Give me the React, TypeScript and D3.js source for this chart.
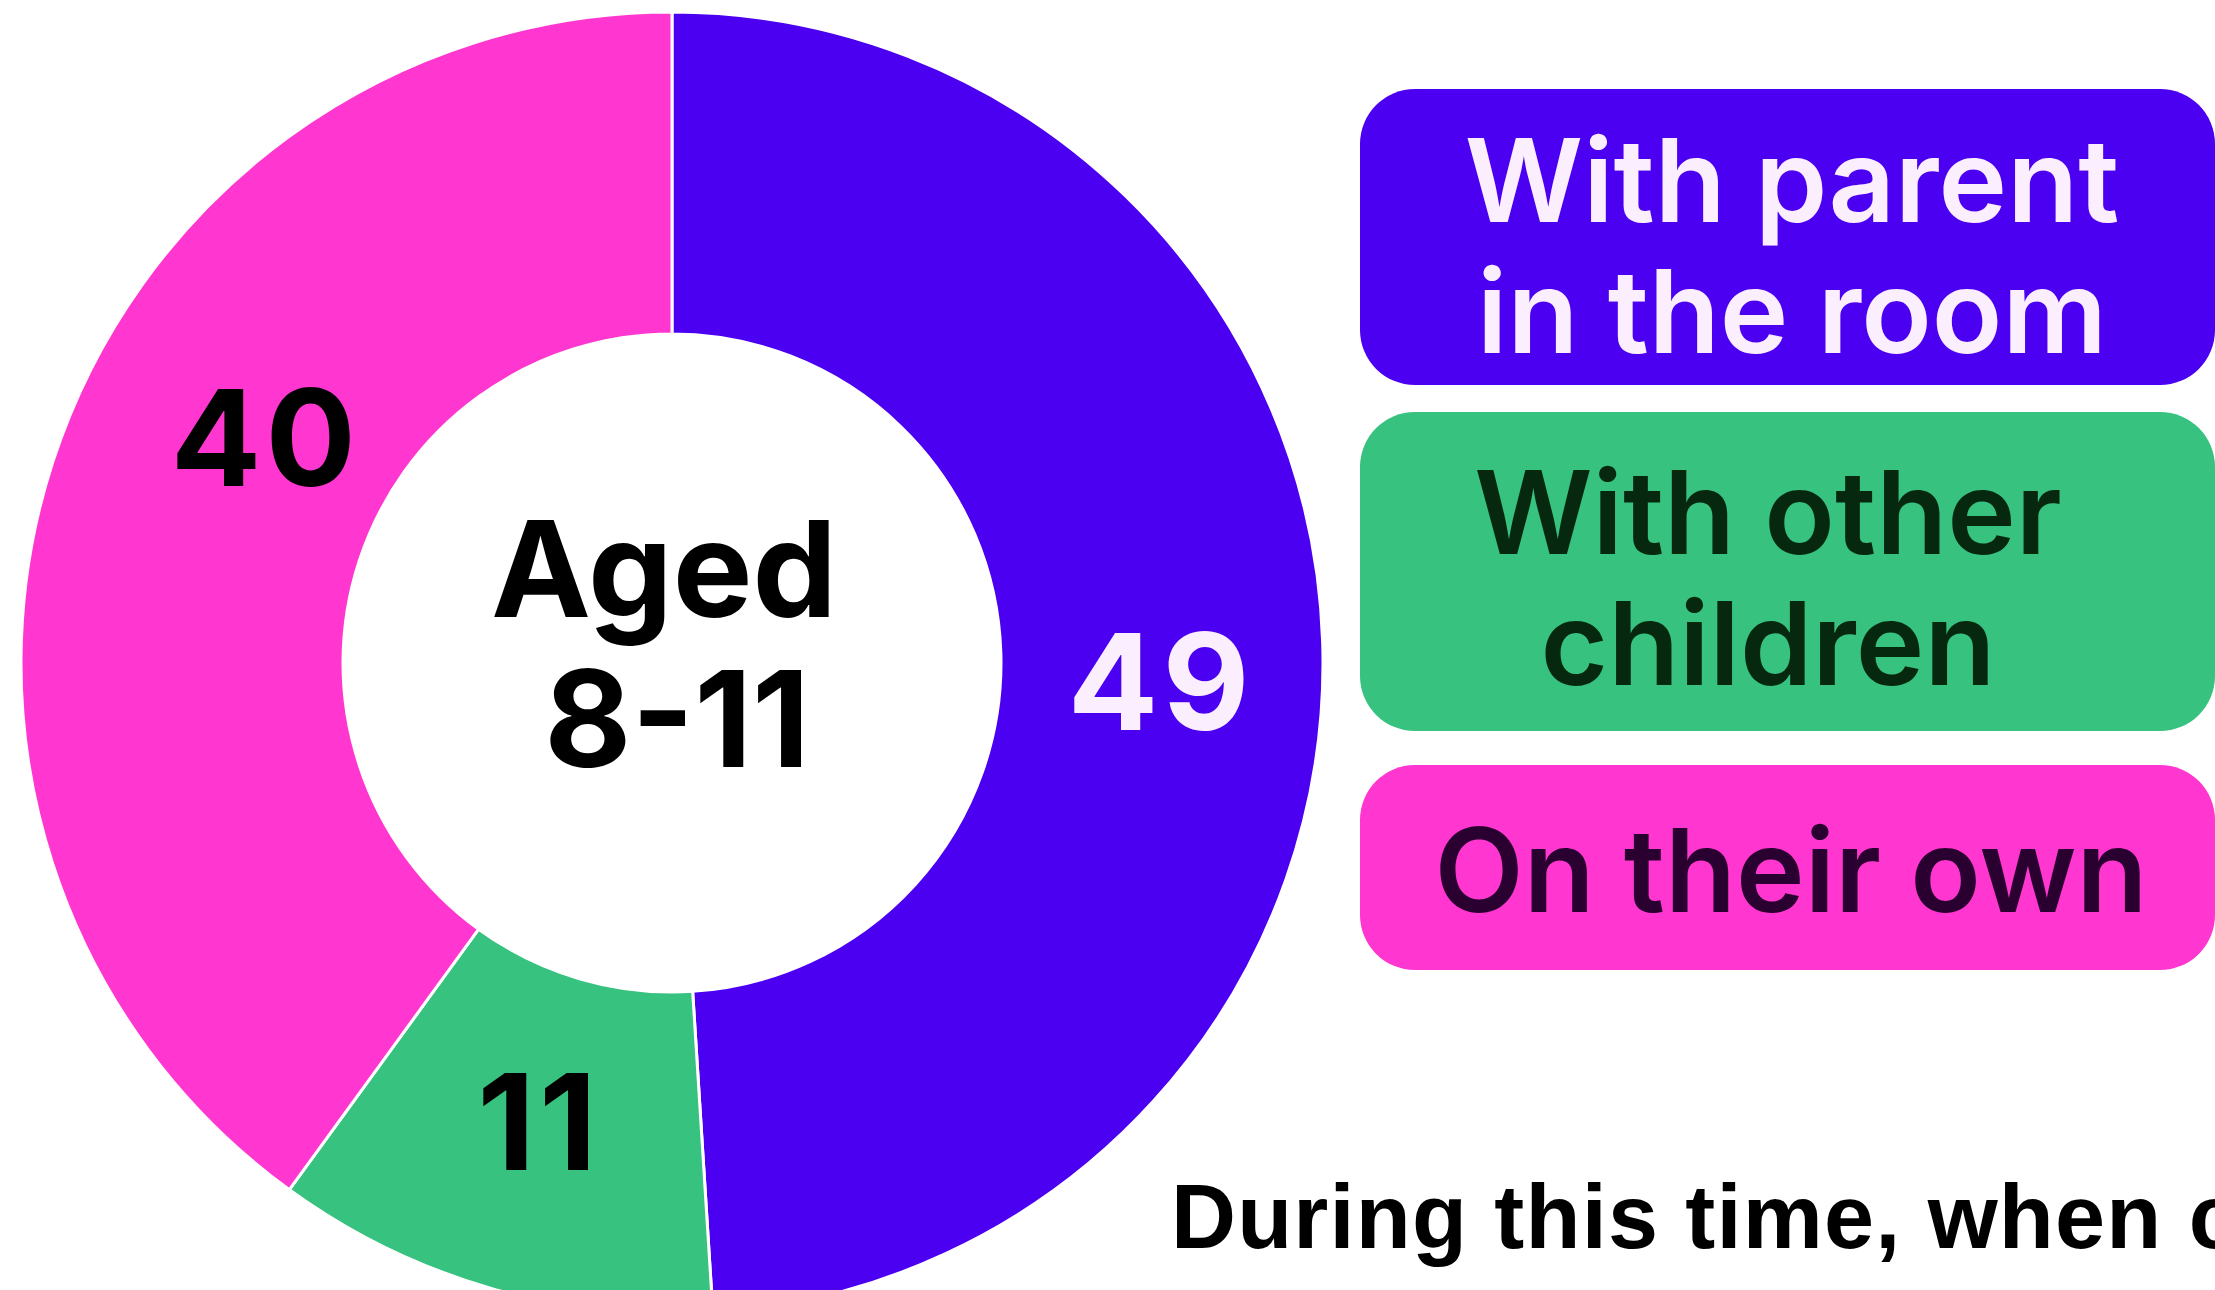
import React from 'react';
import * as d3 from 'd3';

// data
const categories = ['With parent in the room', 'With other children', 'On their own'];
const values = [49, 11, 40];
const colors = ['#4b00f2', '#37c27f', '#ff36cf'];
const legendLines = [['With parent', 'in the room'], ['With other', 'children'], ['On their own']];
const legendText = ['#fbeefe', '#06280f', '#2a0030'];
const labelColors = ['#fbeefe', '#000000', '#000000'];
const centerLines = ['Aged', '8-11'];
const titleText = 'During this time, when children were online, they were';

const W = 2215;
const H = 1290;

function App() {
  const cx = 672;
  const cy = 663;
  const outerR = 651;
  const innerR = 329;

  const pie = d3.pie<number>().sort(null).value(d => d);
  const arcs = pie(values);
  const arc = d3.arc<d3.PieArcDatum<number>>().innerRadius(innerR).outerRadius(outerR);

  // label placement: roughly mid ring, nudged to where the picture has them
  const labelR = [489, 477, 465];
  const labelShift = [0.068, 0, 0.192];
  const numSize = 134;
  const cap = 0.727 * numSize;

  // legend boxes
  const boxX = 1360;
  const boxW = 855;
  const boxTops = [89, 412, 765];
  const boxHeights = [296, 319, 205];
  const lineBase = [[222, 353], [554, 685], [912]];
  const textX = [1792, 1768, 1791];
  const legendSize = 116;

  return (
    <svg width={W} height={H} style={{ position: 'absolute', left: 0, top: 0, display: 'block', background: '#fff' }}>
      <g transform={`translate(${cx},${cy})`}>
        {arcs.map((a, i) => (
          <path key={categories[i]} d={arc(a) || ''} fill={colors[i]} stroke="#ffffff" strokeWidth={3} />
        ))}
        {arcs.map((a, i) => {
          const ang = (a.startAngle + a.endAngle) / 2 + labelShift[i];
          const x = Math.sin(ang) * labelR[i];
          const y = -Math.cos(ang) * labelR[i];
          return (
            <text key={'l' + i} x={x} y={y + cap / 2} textAnchor="middle"
              fontFamily="Inter" fontWeight={700} fontSize={numSize} letterSpacing={4} fill={labelColors[i]}>
              {values[i]}
            </text>
          );
        })}
        <text x={-8} y={-46} textAnchor="middle" fontFamily="Inter" fontWeight={700} fontSize={numSize} fill="#000">
          {centerLines[0]}
        </text>
        <text x={5} y={104} textAnchor="middle" fontFamily="Inter" fontWeight={700} fontSize={numSize} fill="#000">
          {centerLines[1]}
        </text>
      </g>

      {categories.map((c, i) => (
        <g key={c}>
          <rect x={boxX} y={boxTops[i]} width={boxW} height={boxHeights[i]} rx={55} ry={55} fill={colors[i]} />
          {legendLines[i].map((t, j) => (
            <text key={t} x={textX[i]} y={lineBase[i][j]} textAnchor="middle" fontFamily="Inter"
              fontWeight={600} fontSize={legendSize} fill={legendText[i]}>
              {t}
            </text>
          ))}
        </g>
      ))}

      <text x={1171} y={1248} fontFamily="Liberation Sans, Arial, sans-serif" fontWeight={700} fontSize={90}
        letterSpacing={1.2} fill="#000">
        {titleText}
      </text>
    </svg>
  );
}

export default App;
